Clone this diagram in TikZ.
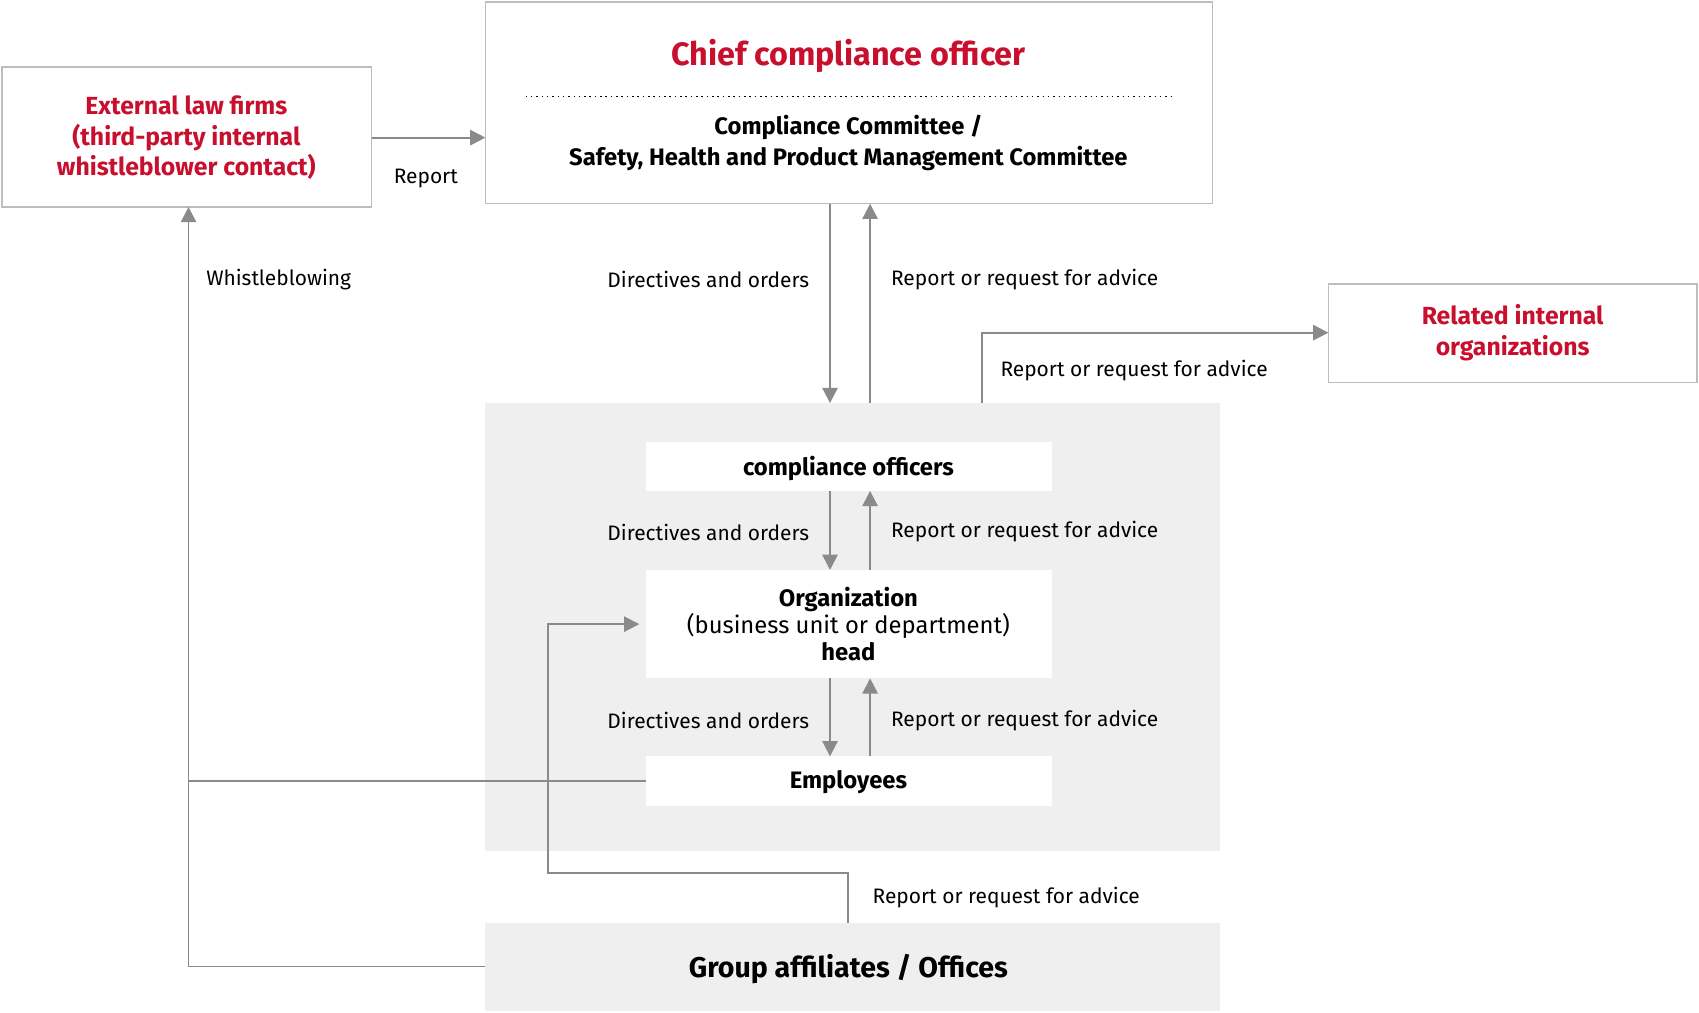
\documentclass[tikz,border=0pt]{standalone}
\usepackage{fontspec}
\setmainfont{Fira Sans}
\usetikzlibrary{arrows.meta,positioning,calc}
\definecolor{ccRed}{HTML}{C8102E}
\definecolor{ccLine}{HTML}{8A8A8A}
\definecolor{ccFrame}{HTML}{BDBDBD}
\definecolor{ccGrey}{HTML}{EFEFEF}

\begin{document}
\begin{tikzpicture}[
    x=0.02cm, y=-0.02cm,
    frame/.style={draw=ccFrame, fill=white, line width=0.8pt},
    whitebox/.style={fill=white},
    redtext/.style={font=\fontsize{13}{16}\selectfont\bfseries, text=ccRed, align=center},
    boxtext/.style={font=\fontsize{12.5}{14.5}\selectfont\bfseries, align=center},
    label/.style={font=\fontsize{11}{13}\selectfont, inner sep=0pt},
    arrow/.style={-{Triangle[length=8pt,width=8pt]}, ccLine, line width=1pt},
    link/.style={ccLine, line width=1pt}
]
\useasboundingbox (0,0) rectangle (1568,934);

% Boxes
\draw[frame] (2,62) rectangle (343,191);
\node[redtext] (ext) at (172,127) {External law firms\\(third-party internal\\whistleblower contact)};
\draw[frame] (448,2) rectangle (1119,188);
\node[font=\fontsize{17}{20}\selectfont\bfseries, text=ccRed] (cco) at (783,52) {Chief compliance officer};
\draw[dotted, line width=0.8pt] (485,89) -- (1083,89);
\node[font=\fontsize{12.5}{16}\selectfont\bfseries, align=center] (comm) at (783,132) {Compliance Committee /\\Safety, Health and Product Management Committee};
\draw[frame] (1226,262) rectangle (1566,353);
\node[redtext] (rel) at (1396,307) {Related internal\\organizations};

% Grey regions
\fill[ccGrey] (448,372) rectangle (1126,785);
\fill[ccGrey] (448,852) rectangle (1126,933);
\node[font=\fontsize{15}{18}\selectfont\bfseries] (grp) at (783,894) {Group affiliates / Offices};

\fill[whitebox] (596,408) rectangle (971,453);
\node[boxtext] (co) at (783,432) {compliance officers};
\fill[whitebox] (596,526) rectangle (971,626);
\node[boxtext, font=\fontsize{12.5}{14}\selectfont] (org) at (783,576) {\textbf{Organization}\\(business unit or department)\\\textbf{head}};
\fill[whitebox] (596,698) rectangle (971,744);
\node[boxtext] (emp) at (783,722) {Employees};

% Arrows
\draw[arrow] (343,127) -- (448,127);
\node[label] at (393,165) {Report};
\foreach \ya/\yb/\yl in {188/372/258, 453/526/491, 626/698/665} {
  \draw[arrow] (766,\ya) -- (766,\yb);
  \draw[arrow] (803,\yb) -- (803,\ya);
  \node[label, anchor=east] at (747,\yl) {Directives and orders};
  \node[label, anchor=west] at (822,\yl) {Report or request for advice};
}
\draw[arrow] (906,372) -- (906,307) -- (1226,307);
\node[label, anchor=west] at (923,342) {Report or request for advice};

% Whistleblowing
\draw[link] (596,721) -- (174,721);
\draw[arrow] (448,892) -- (174,892) -- (174,191);
\node[label, anchor=west] at (190,258) {Whistleblowing};

% Group affiliates report
\draw[arrow] (783,852) -- (783,806) -- (506,806) -- (506,576) -- (590,576);
\node[label, anchor=west] at (805,828) {Report or request for advice};
\end{tikzpicture}
\end{document}
